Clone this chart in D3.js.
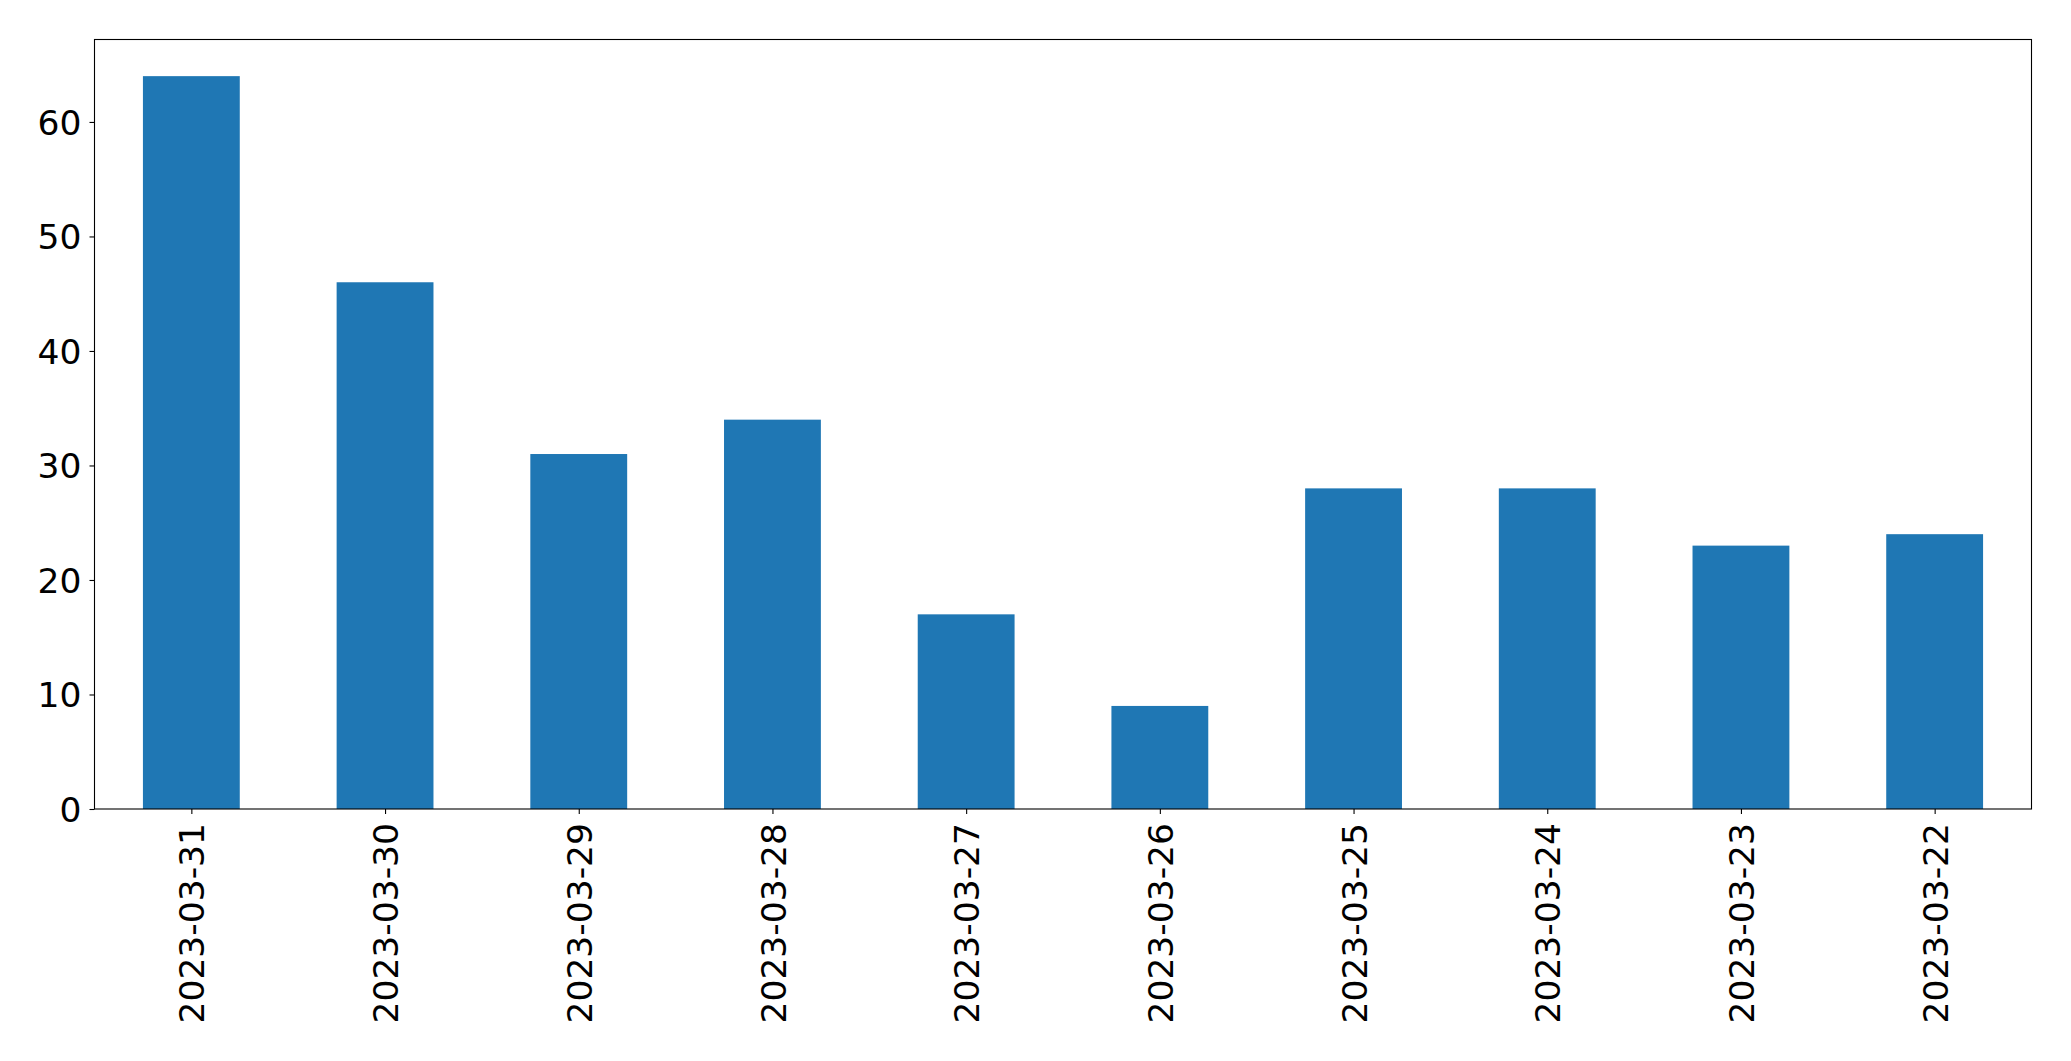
<!DOCTYPE html>
<html>
<head>
<meta charset="utf-8">
<script src="https://cdn.jsdelivr.net/npm/d3@7"></script>
<style>
  html, body { margin: 0; padding: 0; background: #fff; }
  svg { display: block; }
</style>
</head>
<body>
<svg id="chart" width="2071" height="1061"></svg>
<script>
// data
const dates = ["2023-03-31", "2023-03-30", "2023-03-29", "2023-03-28", "2023-03-27",
               "2023-03-26", "2023-03-25", "2023-03-24", "2023-03-23", "2023-03-22"];
const counts = [64, 46, 31, 34, 17, 9, 28, 28, 23, 24];
const yTicks = [0, 10, 20, 30, 40, 50, 60];

const svg = d3.select("#chart");
const W = 2071, H = 1061;
const margin = {left: 94.5, right: W - 2031.5, top: 39.5, bottom: H - 809};
const pw = W - margin.left - margin.right;
const ph = H - margin.top - margin.bottom;
const fontSize = 34.5;
const font = "'DejaVu Sans', sans-serif";

const g = svg.append("g")
    .attr("transform", "translate(" + margin.left + "," + margin.top + ")");

// matplotlib style: xlim (-0.5, n-0.5), bar width 0.5
const x = d3.scaleLinear().domain([-0.5, dates.length - 0.5]).range([0, pw]);
const y = d3.scaleLinear().domain([0, d3.max(counts) * 1.05]).range([ph, 0]);
const barW = x(0.5) - x(0);

g.selectAll("rect.bar")
    .data(counts)
    .join("rect")
    .attr("class", "bar")
    .attr("x", (d, i) => x(i) - barW / 2)
    .attr("y", d => y(d))
    .attr("width", barW)
    .attr("height", d => y(0) - y(d))
    .attr("fill", "#1f77b4");

// y axis
const yAxis = g.append("g")
    .call(d3.axisLeft(y).tickValues(yTicks).tickSize(5).tickPadding(8).tickFormat(d3.format("d")));
yAxis.select(".domain").remove();
yAxis.selectAll("line").attr("stroke", "#000").attr("stroke-width", 1.1);
yAxis.selectAll("text")
    .attr("font-family", font)
    .attr("font-size", fontSize)
    .attr("fill", "#000")
    .attr("dy", "0.36em");

// x axis
const xAxis = g.append("g")
    .attr("transform", "translate(0," + ph + ")")
    .call(d3.axisBottom(x).tickValues(d3.range(dates.length)).tickSize(5).tickFormat(i => dates[i]));
xAxis.select(".domain").remove();
xAxis.selectAll("line").attr("stroke", "#000").attr("stroke-width", 1.1);
xAxis.selectAll("text")
    .attr("font-family", font)
    .attr("font-size", fontSize)
    .attr("fill", "#000")
    .attr("text-anchor", "end")
    .attr("y", 0)
    .attr("dy", 0)
    .attr("transform", "translate(12.6,14) rotate(-90)");

// frame
g.append("rect")
    .attr("x", 0).attr("y", 0)
    .attr("width", pw).attr("height", ph)
    .attr("fill", "none")
    .attr("stroke", "#000")
    .attr("stroke-width", 1.1);
</script>
</body>
</html>
